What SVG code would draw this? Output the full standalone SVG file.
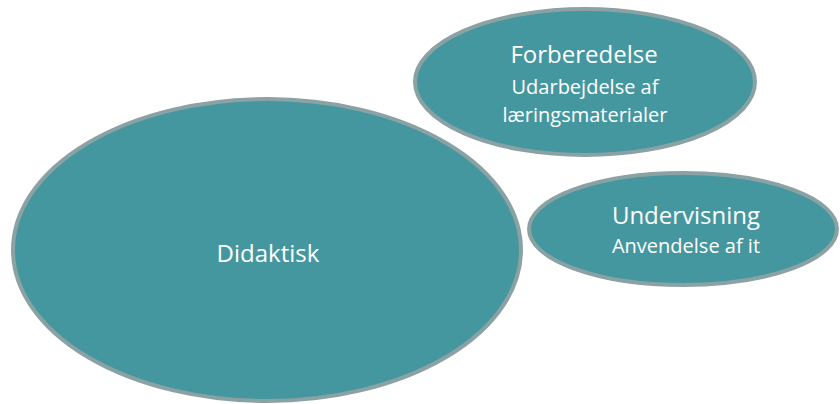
<svg xmlns="http://www.w3.org/2000/svg" width="840" height="404" viewBox="0 0 840 404">
<style>
.node { fill: #45979F; stroke: #8BA2A4; stroke-width: 4; }
.t { fill: #FFFFFF; font-family: "Open Sans", "Liberation Sans", sans-serif; text-anchor: middle; }
.big { font-size: 24px; }
.small { font-size: 20px; }
</style>
<rect width="840" height="404" fill="#FFFFFF"/>
<g id="connectors"></g>
<g id="didaktisk">
<ellipse class="node" cx="267" cy="250" rx="254" ry="151"/>
<text class="t big" x="268" y="262">Didaktisk</text>
</g>
<g id="forberedelse">
<ellipse class="node" cx="585" cy="82" rx="170" ry="73"/>
<text class="t big" x="584" y="62.5">Forberedelse</text>
<text class="t small" x="585" y="94">Udarbejdelse af</text>
<text class="t small" x="585" y="122">læringsmaterialer</text>
</g>
<g id="undervisning">
<ellipse class="node" cx="683" cy="229" rx="154" ry="56"/>
<text class="t big" x="686" y="224">Undervisning</text>
<text class="t small" x="686" y="253">Anvendelse af it</text>
</g>
</svg>
